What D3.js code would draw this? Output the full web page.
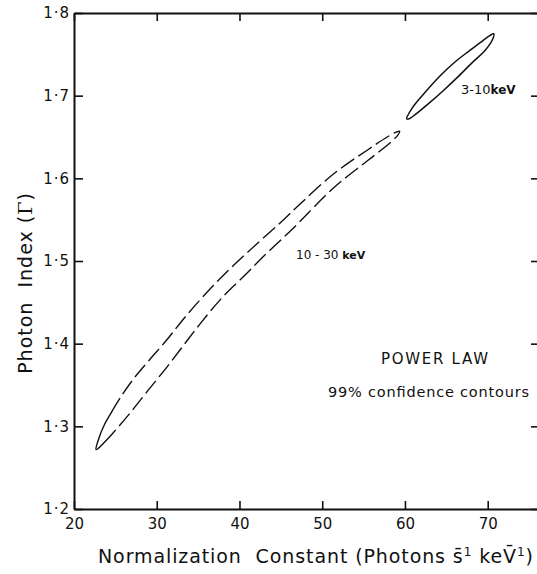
<!DOCTYPE html>
<html>
<head>
<meta charset="utf-8">
<script src="https://cdn.jsdelivr.net/npm/d3@7"></script>
<style>
  body { margin: 0; background: #fff; }
  svg { display: block; }
  text { font-family: "DejaVu Sans", sans-serif; fill: #111; white-space: pre; }
</style>
</head>
<body>
<svg id="chart" width="537" height="574"></svg>
<script>
// axis ticks
const xTicks = [20, 30, 40, 50, 60, 70];
const yTicks = [1.2, 1.3, 1.4, 1.5, 1.6, 1.7, 1.8];

// 99% contour, 3-10 keV (normalization, photon index)
const lowX = [60.21, 60.87, 62.44, 64.26, 66.07, 67.88, 69.46, 70.30, 70.73, 70.54, 69.70, 68.13, 66.43, 64.62, 62.81, 61.23, 60.51];
const lowY = [1.672, 1.685, 1.704, 1.724, 1.741, 1.755, 1.767, 1.773, 1.775, 1.767, 1.755, 1.740, 1.723, 1.706, 1.690, 1.677, 1.672];

// 99% contour, 10-30 keV
const highX = [22.66, 23.02, 23.63, 24.47, 25.56, 27.01, 28.83, 31.25, 33.66, 37.29, 40.92, 44.91, 47.33, 51.32, 55.43, 57.85, 58.94,
               59.36, 59.18, 58.33, 55.43, 51.32, 47.33, 46.12, 42.85, 40.68, 38.02, 35.24, 33.24, 31.25, 28.83, 26.77, 24.72, 23.51, 22.90];
const highY = [1.272, 1.286, 1.301, 1.316, 1.334, 1.355, 1.377, 1.405, 1.435, 1.475, 1.510, 1.546, 1.569, 1.605, 1.634, 1.650, 1.656,
               1.657, 1.653, 1.644, 1.621, 1.588, 1.548, 1.536, 1.505, 1.483, 1.457, 1.424, 1.398, 1.372, 1.342, 1.316, 1.292, 1.279, 1.273];

const svg = d3.select("#chart");

const mLeft = 74, mRight = 539, mTop = 13, mBottom = 509;

const x = d3.scaleLinear().domain([20, 76.2]).range([mLeft, mRight]);
const y = d3.scaleLinear().domain([1.2, 1.8]).range([mBottom, mTop]);

const fmtY = d => d3.format(".1f")(d).replace(".", "\u00b7");

// axes (ticks point inward on all four sides)
const gB = svg.append("g").attr("transform", `translate(0,${mBottom})`)
    .call(d3.axisBottom(x).tickValues(xTicks).tickSize(-8).tickSizeOuter(0).tickPadding(9));
const gL = svg.append("g").attr("transform", `translate(${mLeft},0)`)
    .call(d3.axisLeft(y).tickValues(yTicks).tickSize(-9).tickSizeOuter(0).tickPadding(4).tickFormat(fmtY));
const gT = svg.append("g").attr("transform", `translate(0,${mTop})`)
    .call(d3.axisTop(x).tickValues(xTicks).tickSize(-8).tickSizeOuter(0).tickFormat(""));
const gR = svg.append("g").attr("transform", `translate(${mRight},0)`)
    .call(d3.axisRight(y).tickValues(yTicks).tickSize(-8).tickSizeOuter(0).tickFormat(""));

[gB, gL, gT, gR].forEach(g => {
    g.select(".domain").attr("stroke", "#111").attr("stroke-width", 2);
    g.selectAll(".tick line").attr("stroke", "#111").attr("stroke-width", 1.6);
    g.selectAll(".tick text").attr("fill", "#111")
        .style("font-family", "DejaVu Sans, sans-serif").style("font-size", "15px");
});
gL.selectAll(".tick text").attr("letter-spacing", 1);

// contours
const line = d3.line()
    .x(d => x(d[0]))
    .y(d => y(d[1]))
    .curve(d3.curveCatmullRomClosed.alpha(0.5));

svg.append("path")
    .attr("d", line(d3.zip(lowX, lowY)))
    .attr("fill", "none")
    .attr("stroke", "#111")
    .attr("stroke-width", 1.5);

const high = svg.append("path")
    .attr("d", line(d3.zip(highX, highY)))
    .attr("fill", "none")
    .attr("stroke", "#111")
    .attr("stroke-width", 1.4);

// dashed, but solid round the lower-left tip
const L = high.node().getTotalLength();
const dash = [45];
let pos = 45;
while (pos + 21 < L - 38) { dash.push(5, 16); pos += 21; }
dash.push(5, L - pos - 5 + 2, 0);
high.attr("stroke-dasharray", dash.join(","));

// labels in the plot
const t1 = svg.append("text").attr("x", 461).attr("y", 94);
t1.append("tspan").style("font-size", "13px").text("3-10");
t1.append("tspan").style("font-size", "12px").style("font-weight", "bold").text("keV");

const t2 = svg.append("text").attr("x", 296).attr("y", 259);
t2.append("tspan").style("font-size", "12px").text("10 - 30 ");
t2.append("tspan").style("font-size", "11px").style("font-weight", "bold").text("keV");

svg.append("text").attr("x", 381).attr("y", 364)
    .style("font-size", "15px")
    .attr("textLength", 107).attr("lengthAdjust", "spacing")
    .text("POWER LAW");

svg.append("text").attr("x", 328).attr("y", 397)
    .style("font-size", "14.5px")
    .attr("textLength", 201).attr("lengthAdjust", "spacing")
    .text("99% confidence contours");

// axis titles
const xt = svg.append("text").attr("x", 98).attr("y", 563)
    .style("font-size", "19px")
    .attr("letter-spacing", 0.9);
xt.append("tspan").text("Normalization  Constant (Photons s\u0304");
xt.append("tspan").attr("dy", -7).style("font-size", "12px").text("1");
xt.append("tspan").attr("dy", 7).text(" keV\u0304");
xt.append("tspan").attr("dy", -7).style("font-size", "12px").text("1");
xt.append("tspan").attr("dy", 7).text(")");

const yt = svg.append("text")
    .attr("transform", "translate(32,283) rotate(-90)")
    .attr("text-anchor", "middle")
    .attr("letter-spacing", 1)
    .style("font-size", "19px");
yt.append("tspan").text("Photon  Index (");
yt.append("tspan").style("font-family", "DejaVu Serif, serif").text("\u0393");
yt.append("tspan").text(")");
</script>
</body>
</html>
